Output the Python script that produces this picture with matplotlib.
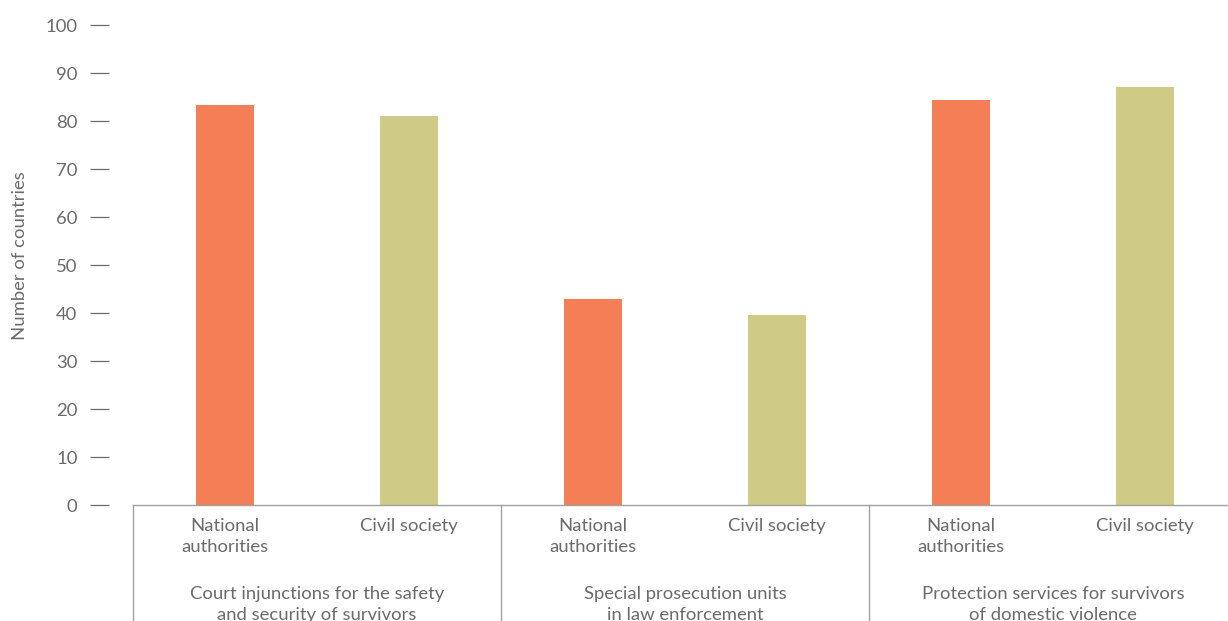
import matplotlib.pyplot as plt
from matplotlib.transforms import blended_transform_factory

plt.rcParams['font.family'] = ['Lato', 'DejaVu Sans']

groups = ["Court injunctions for the safety\nand security of survivors",
          "Special prosecution units\nin law enforcement",
          "Protection services for survivors\nof domestic violence"]
sources = ["National\nauthorities", "Civil society"]
national = [83.3, 42.9, 84.4]
civil = [81, 39.6, 87.1]
yticks = [0, 10, 20, 30, 40, 50, 60, 70, 80, 90, 100]

ORANGE = "#F47E55"
OLIVE = "#CFCA86"
TEXT = "#6b6b6b"
LINE = "#a0a0a0"
FS = 13.3


def main():
    W, H = 1228, 621
    fig = plt.figure(figsize=(W / 100, H / 100), dpi=100)
    slot = 184
    left, bottom, top = 133, 505, 25
    ax = fig.add_axes([left / W, (H - bottom) / H, 6 * slot / W, (bottom - top) / H])

    xs, vals, cols, labels = [], [], [], []
    for i in range(len(groups)):
        xs += [2 * i, 2 * i + 1]
        vals += [national[i], civil[i]]
        cols += [ORANGE, OLIVE]
        labels += sources
    ax.bar(xs, vals, width=0.32, color=cols)

    ax.set_xlim(-0.5, 5.5)
    ax.set_ylim(0, 100)
    ax.set_yticks(yticks)
    ax.set_xticks([])
    for s in ["top", "right"]:
        ax.spines[s].set_visible(False)
    ax.spines["left"].set_position(("outward", 17.5))
    ax.spines["left"].set_color("none")
    ax.spines["bottom"].set_color(LINE)
    ax.spines["bottom"].set_linewidth(1.0)
    ax.tick_params(axis="y", length=13.5, width=0.9, color=TEXT, pad=9,
                   labelsize=FS, labelcolor=TEXT)
    ax.set_ylabel("Number of countries", fontsize=FS, color=TEXT)
    ax.yaxis.set_label_coords(-0.095, 0.52)

    tr = blended_transform_factory(ax.transData, ax.transAxes)
    ah = bottom - top
    for x, lab in zip(xs, labels):
        ax.text(x, -13 / ah, lab, transform=tr, ha="center", va="top",
                fontsize=FS, color=TEXT, linespacing=1.42)
    for i, g in enumerate(groups):
        ax.text(2 * i + 0.5, -81 / ah, g, transform=tr, ha="center", va="top",
                fontsize=FS, color=TEXT, linespacing=1.42)
    for xb in [-0.5, 1.5, 3.5, 5.5]:
        ax.plot([xb, xb], [0, -0.5], transform=tr, color=LINE, lw=1.0,
                clip_on=False)

    fig.savefig("out.png", dpi=100)


if __name__ == "__main__":
    main()
